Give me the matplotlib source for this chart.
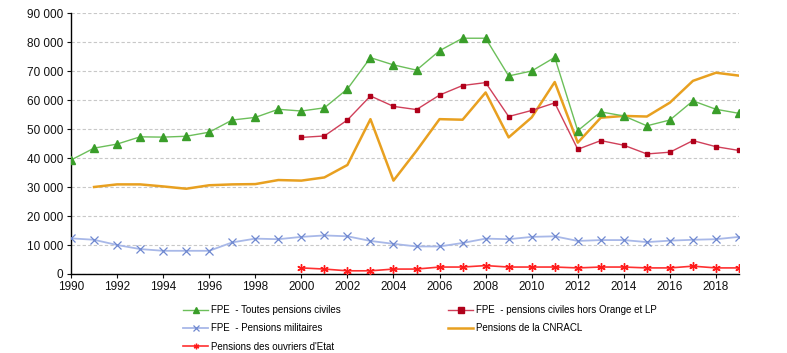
import matplotlib
matplotlib.use("Agg")
import matplotlib.pyplot as plt
from matplotlib.ticker import FuncFormatter, MultipleLocator
import numpy as np

years = list(range(1990, 2020))

fpe_toutes = [39300, 43400, 44800, 47300, 47200, 47500, 48900, 53100, 54000, 56800,
              56200, 57300, 63800, 74600, 72100, 70300, 77000, 81300, 81300, 68300,
              70000, 74700, 49400, 55900, 54500, 51100, 53100, 59700, 56800, 55400]

years_2000 = list(range(2000, 2020))
fpe_hors_orange = [47100, 47600, 53100, 61400, 57800, 56700, 61700, 65000, 66000, 54300,
                   56400, 59000, 43000, 46000, 44400, 41400, 42000, 46000, 43900, 42600]

fpe_militaires = [12300, 11800, 10000, 8600, 8000, 8000, 8000, 10900, 12200, 12000,
                  12800, 13300, 13000, 11400, 10400, 9500, 9500, 10700, 12200, 12000,
                  12800, 13000, 11400, 11700, 11700, 11000, 11500, 11800, 12000, 12800]

years_1991 = list(range(1991, 2020))
cnracl = [30000, 30900, 30900, 30200, 29400, 30600, 30900, 31000, 32400,
          32200, 33300, 37600, 53400, 32200, 42500, 53400, 53200, 62600, 47100,
          54000, 66200, 45300, 53900, 54500, 54300, 59100, 66600, 69400, 68400]

ouvriers = [2100, 1700, 1100, 1100, 1700, 1700, 2400, 2400, 2900, 2400,
            2400, 2400, 2100, 2400, 2400, 2100, 2100, 2700, 2100, 2100]

labels = ["FPE  - Toutes pensions civiles",
          "FPE  - pensions civiles hors Orange et LP",
          "FPE  - Pensions militaires",
          "Pensions de la CNRACL",
          "Pensions des ouvriers d'Etat"]

plt.rcParams['font.family'] = ['Liberation Sans', 'DejaVu Sans']

fig = plt.figure(figsize=(7.87, 3.53), dpi=100)
ax = fig.add_axes([71/787, 1-274/353, (739-71)/787, (274-13)/353])

l1, = ax.plot(years, fpe_toutes, color="#6cbf5a", lw=1.0, marker="^", ms=5.5,
              mfc="#3a9e2a", mec="#3a9e2a", zorder=4)
l2, = ax.plot(years_2000, fpe_hors_orange, color="#d0405a", lw=1.0, marker="s", ms=3.5,
              mfc="#b0001a", mec="#b0001a", zorder=4)
l3, = ax.plot(years, fpe_militaires, color="#a8b8e8", lw=1.3, marker="x", ms=6,
              mew=0.9, mec="#6f88d0", zorder=3)
l4, = ax.plot(years_1991, cnracl, color="#e8a020", lw=1.8, zorder=3)
l5, = ax.plot(years_2000, ouvriers, color="#ff3030", lw=1.2, marker=(6, 2, 0), ms=6,
              mew=1.0, mec="#ff1a1a", zorder=4)

ax.set_xlim(1990, 2019)
ax.set_ylim(0, 90000)
ax.yaxis.set_major_locator(MultipleLocator(10000))
ax.set_xticks(list(range(1990, 2019, 2)))
ax.yaxis.set_major_formatter(FuncFormatter(lambda v, p: f"{int(v):,}".replace(",", " ")))
ax.grid(axis="y", color="#c8c8c8", ls=(0, (3, 2)), lw=0.8)
ax.set_axisbelow(True)
for s in ["top", "right"]:
    ax.spines[s].set_visible(False)
ax.spines["left"].set_linewidth(1.0)
ax.spines["bottom"].set_linewidth(1.0)
ax.tick_params(axis="both", labelsize=8.5, colors="#111111", length=3, width=0.8)
ax.tick_params(axis="x", pad=2)
ax.tick_params(axis="y", pad=2.5)

handles = [l1, l3, l5, l2, l4]
hlabels = [labels[0], labels[2], labels[4], labels[1], labels[3]]
leg = fig.legend(handles, hlabels, ncol=2, loc="upper left",
                 bbox_to_anchor=(183/787, 1-305/353), frameon=False,
                 fontsize=7, handlelength=2.6, handletextpad=0.3,
                 columnspacing=11.0, labelspacing=0.85, borderaxespad=0, borderpad=0)
for h in leg.legend_handles:
    try:
        h.set_markersize(4)
    except Exception:
        pass

fig.savefig("out.png", dpi=100)
